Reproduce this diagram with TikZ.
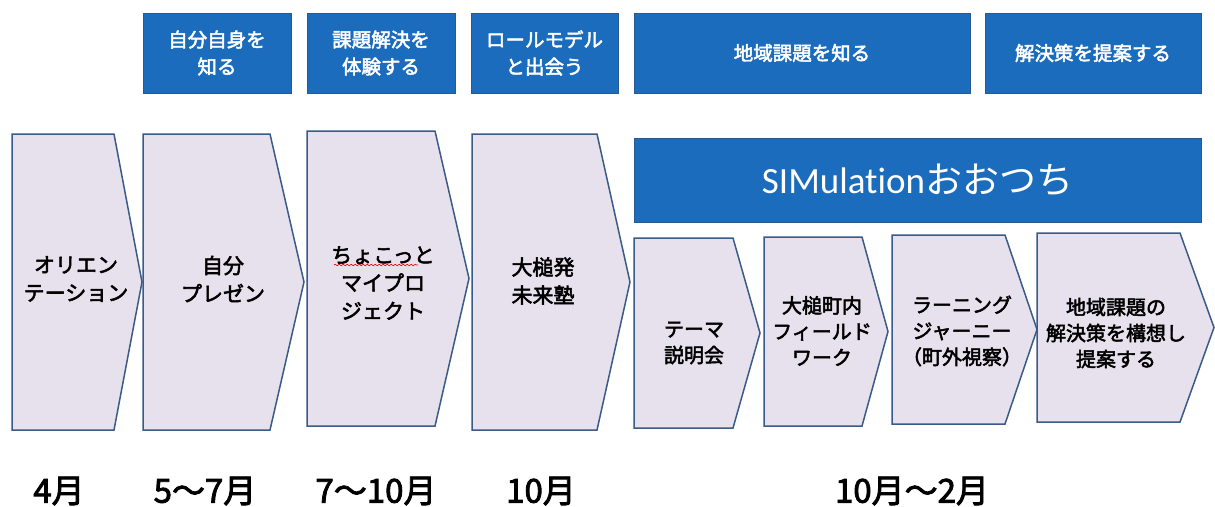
\documentclass[tikz,border=0pt]{standalone}
\usepackage{fontspec}
\setmainfont{Noto Sans CJK JP}
\newfontfamily\medjp{Noto Sans CJK JP}[FakeBold=2.5]
\newfontfamily\latinfont{Carlito}[Ligatures={NoCommon}]
\usetikzlibrary{decorations.pathmorphing}
\definecolor{stageblue}{RGB}{28,108,190}
\definecolor{stageedge}{RGB}{42,88,145}
\definecolor{chevfill}{RGB}{230,225,236}
\definecolor{chevedge}{RGB}{58,90,136}
% chevron outline: left, top, body right, tip, bottom
\newcommand{\chevshape}[5]{%
	\draw[chev] (#1,#2) -- (#3,#2) -- (#4,{(#2+#5)/2}) -- (#3,#5) -- (#1,#5) -- cycle;}
\begin{document}
\begin{tikzpicture}[x=1pt, y=-1pt, line join=miter,
	chev/.style={draw=chevedge, fill=chevfill, line width=1.5pt},
	topbox/.style={draw=stageedge, fill=stageblue, text=white, line width=.6pt, minimum height=80pt, align=center, inner sep=0pt, font=\medjp\fontsize{19.5}{27}\selectfont},
	bigtext/.style={align=center, inner sep=0pt, font=\medjp\fontsize{21}{28}\selectfont},
	smalltext/.style={align=center, inner sep=0pt, font=\medjp\fontsize{20}{26}\selectfont},
	month/.style={inner sep=0pt, font=\medjp\fontsize{33}{35}\selectfont}]
	\useasboundingbox (0,0) rectangle (1215,506);
	% top row
	\node[topbox, minimum width=148pt] (knowself) at (217,53) {自分自身を\\知る};
	\node[topbox, minimum width=148pt] (tryissue) at (381,53) {課題解決を\\体験する};
	\node[topbox, minimum width=147pt] (rolemodel) at (544.5,53) {ロールモデル\\と出会う};
	\node[topbox, minimum width=336pt] (localissue) at (802,53) {地域課題を知る};
	\node[topbox, minimum width=216pt] (propose) at (1093,53) {解決策を提案する};
	% big chevrons
	\chevshape{12}{134}{114}{142}{430}
	\node[bigtext] (orient) at (76,279) {オリエン\\テーション};
	\chevshape{143}{134}{270}{304}{430}
	\node[bigtext] (present) at (223,279) {自分\\プレゼン};
	\chevshape{307}{131}{435}{469}{426}
	\node[bigtext] (project) at (383,283) {ちょこっと\\マイプロ\\ジェクト};
	\draw[red, line width=.6pt, decoration={snake, amplitude=.8pt, segment length=4pt}, decorate] (334,265) -- (418,265);
	\chevshape{472}{134}{597}{630}{430}
	\node[bigtext] (juku) at (543,281) {大槌発\\未来塾};
	% SIMulation
	\node[topbox, minimum width=567pt, minimum height=84pt, font=\fontsize{37}{40}\selectfont] (sim) at (917.5,180) {{\latinfont SIMulation}おおつち};
	% small chevrons
	\chevshape{634}{238}{733}{760}{428}
	\node[smalltext] (theme) at (694,343) {テーマ\\説明会};
	\chevshape{764}{237}{862}{888}{426}
	\node[smalltext] (fieldwork) at (822,331) {大槌町内\\フィールド\\ワーク};
	\chevshape{892}{235}{1005}{1037}{424}
	\node[smalltext] (journey) at (962,331) {ラーニング\\ジャーニー\\（町外視察）};
	\chevshape{1037}{233}{1180}{1214}{422}
	\node[smalltext] (plan) at (1116,333) {地域課題の\\解決策を構想し\\提案する};
	% months
	\node[month] (apr) at (59,491) {4月};
	\node[month] (mayjul) at (205,491) {5～7月};
	\node[month] (juloct) at (376,491) {7～10月};
	\node[month] (oct) at (541,491) {10月};
	\node[month] (octfeb) at (912,491) {10月～2月};
\end{tikzpicture}
\end{document}
